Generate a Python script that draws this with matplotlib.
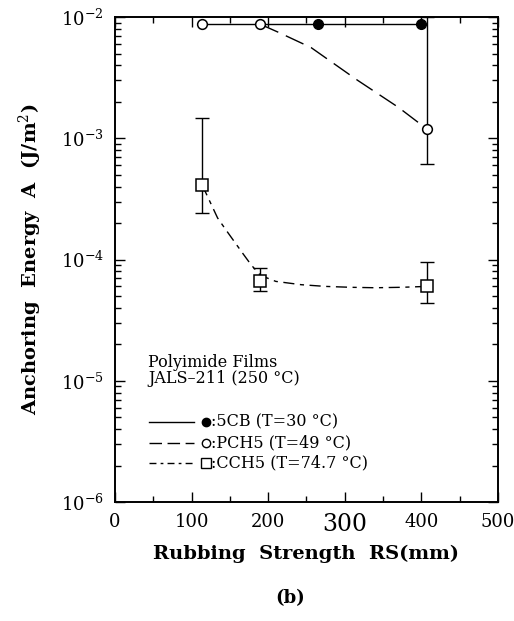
import numpy as np
import matplotlib
matplotlib.use("Agg")
import matplotlib.pyplot as plt
from matplotlib.ticker import LogLocator, LogFormatterMathtext, MultipleLocator, NullFormatter

plt.rcParams['font.family'] = 'DejaVu Serif'
plt.rcParams['mathtext.fontset'] = 'dejavuserif'

# 5CB (T=30 C), filled circles
cb_x = [114, 190, 265, 400]
cb_y = [8.7e-3, 8.7e-3, 8.7e-3, 8.7e-3]

# PCH5 (T=49 C), open circles
pch_x = [114, 190, 408]
pch_y = [8.7e-3, 8.7e-3, 1.2e-3]
pch_lo = [8.7e-3, 8.7e-3, 6.1e-4]
pch_hi = [8.7e-3, 8.7e-3, 1.0e-2]
# guide curve
pch_cx = [190, 213, 256, 317, 370, 396, 408]
pch_cy = [8.7e-3, 7.5e-3, 5.6e-3, 3.0e-3, 1.8e-3, 1.35e-3, 1.2e-3]

# CCH5 (T=74.7 C), open squares
cch_x = [114, 190, 407]
cch_y = [4.1e-4, 6.6e-5, 6.0e-5]
cch_lo = [2.4e-4, 5.5e-5, 4.4e-5]
cch_hi = [1.48e-3, 8.5e-5, 9.5e-5]
cch_cx = [114, 124, 134, 145, 156, 167, 178, 190, 210, 243, 275, 308, 340, 374, 407]
cch_cy = [4.1e-4, 3.0e-4, 2.2e-4, 1.75e-4, 1.4e-4, 1.12e-4, 9.0e-5, 7.4e-5,
          6.6e-5, 6.2e-5, 6.0e-5, 5.9e-5, 5.85e-5, 5.9e-5, 6.0e-5]

legend_labels = [':5CB (T=30 \u00b0C)', ':PCH5 (T=49 \u00b0C)', ':CCH5 (T=74.7 \u00b0C)']

fig = plt.figure(figsize=(5.14, 6.21), dpi=100)
ax = fig.add_axes([0.2237, 0.1916, 0.745, 0.781])

ax.plot(cb_x, cb_y, '-', color='black', lw=1.0, zorder=2)
ax.plot(cb_x[2:], cb_y[2:], 'o', color='black', ms=7, zorder=4)

ax.plot(pch_cx, pch_cy, color='black', lw=1.0, dashes=(14, 6), zorder=2)
ax.errorbar(pch_x[2:], pch_y[2:],
            yerr=[np.array(pch_y[2:]) - np.array(pch_lo[2:]), np.array(pch_hi[2:]) - np.array(pch_y[2:])],
            fmt='none', ecolor='black', elinewidth=1.0, capsize=5, capthick=1.0, zorder=3)
ax.plot(pch_x, pch_y, 'o', mfc='white', mec='black', mew=1.1, ms=7, zorder=5)

ax.plot(cch_cx, cch_cy, color='black', lw=1.0, dashes=(8, 4, 3, 4), zorder=2)
ax.errorbar(cch_x, cch_y,
            yerr=[np.array(cch_y) - np.array(cch_lo), np.array(cch_hi) - np.array(cch_y)],
            fmt='none', ecolor='black', elinewidth=1.0, capsize=5, capthick=1.0, zorder=3)
ax.plot(cch_x, cch_y, 's', mfc='white', mec='black', mew=1.1, ms=8, zorder=5)

ax.set_yscale('log')
ax.set_xlim(0, 500)
ax.set_ylim(1e-6, 1e-2)
ax.xaxis.set_major_locator(MultipleLocator(100))
ax.xaxis.set_minor_locator(MultipleLocator(50))
ax.yaxis.set_major_locator(LogLocator(base=10))
ax.yaxis.set_minor_locator(LogLocator(base=10, subs=np.arange(2, 10)))
ax.yaxis.set_major_formatter(LogFormatterMathtext())
ax.yaxis.set_minor_formatter(NullFormatter())
ax.tick_params(which='both', direction='in', top=True, right=True, width=1.0)
ax.tick_params(which='major', length=7, labelsize=13, pad=8)
ax.tick_params(which='minor', length=4)
for sp in ax.spines.values():
    sp.set_linewidth(1.4)

fig.canvas.draw()
for lab in ax.get_xticklabels():
    if lab.get_text() == '300':
        lab.set_fontsize(17)

ax.set_xlabel('Rubbing  Strength  RS(mm)', fontsize=14, fontweight='bold', labelpad=6)
ax.set_ylabel('Anchoring  Energy  A  (J/m$^2$)', fontsize=14, fontweight='bold', labelpad=12)

# legend block
ax.text(0.087, 0.287, 'Polyimide Films', transform=ax.transAxes, fontsize=11.5, va='center')
ax.text(0.087, 0.254, 'JALS\u2013211 (250 \u00b0C)', transform=ax.transAxes, fontsize=11.5, va='center')
leg_y = [0.165, 0.122, 0.080]
leg_styles = [dict(ls='-'), dict(dashes=(9, 4)), dict(dashes=(5, 3, 2, 3))]
leg_markers = [dict(marker='o', mfc='black', ms=6), dict(marker='o', mfc='white', ms=6),
               dict(marker='s', mfc='white', ms=6.5)]
for yy, st, mk, lab in zip(leg_y, leg_styles, leg_markers, legend_labels):
    ax.plot([0.089, 0.206], [yy, yy], color='black', lw=1.0, transform=ax.transAxes, **st)
    ax.plot([0.238], [yy], color='black', mec='black', mew=1.0, ls='none', transform=ax.transAxes, **mk)
    ax.text(0.252, yy, lab, transform=ax.transAxes, fontsize=11.5, va='center')

fig.text(0.564, 0.037, '(b)', fontsize=13, fontweight='bold', ha='center', va='center')

fig.savefig('out.png', dpi=100)
